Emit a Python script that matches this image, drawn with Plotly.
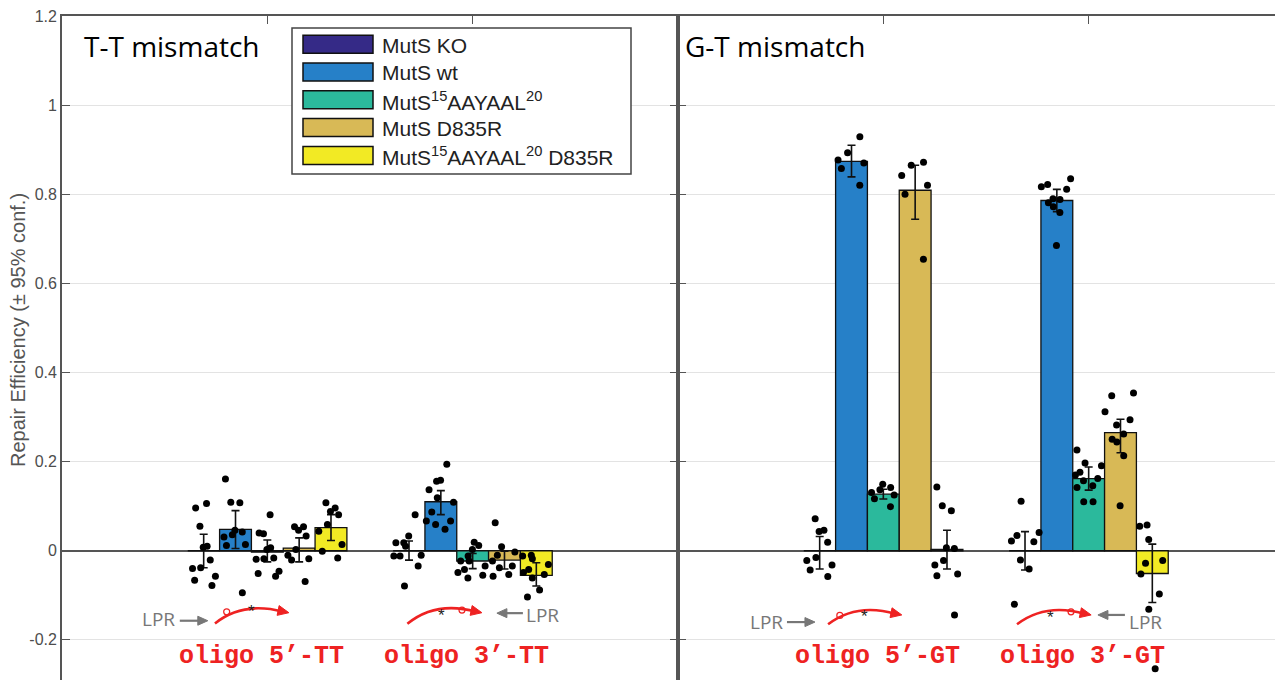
import math
import plotly.graph_objects as go

# ---------------- data ----------------
series_names = [
    "MutS KO",
    "MutS wt",
    "MutS<sup>15</sup>AAYAAL<sup>20</sup>",
    "MutS D835R",
    "MutS<sup>15</sup>AAYAAL<sup>20</sup> D835R",
]
series_colors = ["#352a87", "#2680c8", "#2bb99c", "#d8b956", "#f2ea24"]

oligo_pos = [1, 2]
tt_labels = ["oligo 5\u2019-TT", "oligo 3\u2019-TT"]
gt_labels = ["oligo 5\u2019-GT", "oligo 3\u2019-GT"]

y_tick_vals = [-0.2, 0, 0.2, 0.4, 0.6, 0.8, 1.0, 1.2]
y_tick_text = ["-0.2", "0", "0.2", "0.4", "0.6", "0.8", "1", "1.2"]

# mean repair efficiency per series (KO, wt, AAYAAL, D835R, AAYAAL D835R)
tt5_mean = [0.000, 0.048, -0.003, 0.006, 0.052]
tt3_mean = [0.000, 0.110, -0.023, -0.021, -0.055]
gt5_mean = [0.000, 0.874, 0.127, 0.809, 0.003]
gt3_mean = [0.000, 0.786, 0.162, 0.265, -0.051]

# 95% confidence interval half-widths (upper / lower)
tt5_ci_up = [0.037, 0.042, 0.027, 0.023, 0.029]
tt5_ci_lo = [0.038, 0.043, 0.022, 0.031, 0.029]
tt3_ci_up = [0.022, 0.025, 0.017, 0.020, 0.028]
tt3_ci_lo = [0.021, 0.029, 0.017, 0.020, 0.024]
gt5_ci_up = [0.032, 0.036, 0.011, 0.056, 0.043]
gt5_ci_lo = [0.041, 0.035, 0.011, 0.065, 0.044]
gt3_ci_up = [0.043, 0.025, 0.026, 0.030, 0.066]
gt3_ci_lo = [0.043, 0.025, 0.026, 0.045, 0.065]

# individual replicate measurements
tt5_points = [
    [0.106, 0.096, 0.055, 0.010, 0.008, -0.021, -0.038, -0.040, -0.057, -0.066, -0.078],
    [0.161, 0.109, 0.108, 0.046, 0.042, 0.036, 0.031, 0.014, 0.012, -0.094],
    [0.081, 0.040, 0.038, 0.007, 0.003, -0.016, -0.018, -0.019, -0.046, -0.051, -0.057],
    [0.054, 0.054, 0.046, 0.033, 0.003, -0.010, -0.018, -0.021, -0.069],
    [0.108, 0.096, 0.088, 0.081, 0.059, 0.044, 0.014, -0.001, -0.016],
]
tt3_points = [
    [0.081, 0.033, 0.018, 0.018, 0.010, -0.010, -0.012, -0.012, -0.034, -0.079],
    [0.194, 0.158, 0.156, 0.137, 0.119, 0.109, 0.087, 0.067, 0.067, 0.059, 0.048],
    [0.019, 0.012, 0.003, -0.012, -0.023, -0.023, -0.034, -0.042, -0.049, -0.055, -0.061],
    [0.063, 0.009, -0.003, -0.010, -0.023, -0.034, -0.038, -0.053, -0.057],
    [-0.010, -0.012, -0.018, -0.031, -0.042, -0.049, -0.053, -0.061, -0.088, -0.104],
]
gt5_points = [
    [0.072, 0.046, 0.043, 0.019, -0.015, -0.022, -0.032, -0.043, -0.058],
    [0.929, 0.893, 0.877, 0.870, 0.858, 0.820],
    [0.149, 0.142, 0.137, 0.131, 0.125, 0.117, 0.099],
    [0.872, 0.865, 0.842, 0.820, 0.800, 0.654],
    [0.143, 0.101, 0.090, 0.007, 0.005, -0.022, -0.032, -0.052, -0.056, -0.144],
]
gt3_points = [
    [0.111, 0.041, 0.034, 0.022, 0.020, -0.021, -0.041, -0.120],
    [0.835, 0.822, 0.817, 0.811, 0.790, 0.788, 0.781, 0.772, 0.759, 0.685],
    [0.226, 0.197, 0.191, 0.176, 0.170, 0.162, 0.157, 0.146, 0.142, 0.110, 0.110],
    [0.354, 0.348, 0.312, 0.294, 0.282, 0.262, 0.250, 0.244, 0.213, 0.101],
    [0.058, 0.055, 0.025, -0.022, -0.028, -0.052, -0.097, -0.131, -0.265],
]

# ---------------- figure ----------------
panels = [
    dict(xa="x", ya="y", grp="tt", means=(tt5_mean, tt3_mean), up=(tt5_ci_up, tt3_ci_up),
         lo=(tt5_ci_lo, tt3_ci_lo), pts=(tt5_points, tt3_points), labels=tt_labels,
         title="T-T mismatch"),
    dict(xa="x2", ya="y2", grp="gt", means=(gt5_mean, gt3_mean), up=(gt5_ci_up, gt3_ci_up),
         lo=(gt5_ci_lo, gt3_ci_lo), pts=(gt5_points, gt3_points), labels=gt_labels,
         title="G-T mismatch"),
]

fig = go.Figure()

for p in panels:
    for s, name in enumerate(series_names):
        fig.add_trace(go.Bar(
            x=oligo_pos,
            y=[p["means"][0][s], p["means"][1][s]],
            name=name, xaxis=p["xa"], yaxis=p["ya"],
            offsetgroup=str(s), alignmentgroup=p["grp"],
            marker=dict(color=series_colors[s], line=dict(color="#111111", width=1.3)),
            error_y=dict(type="data", symmetric=False,
                         array=[p["up"][0][s], p["up"][1][s]],
                         arrayminus=[p["lo"][0][s], p["lo"][1][s]],
                         color="#111111", thickness=1.6, width=4),
            showlegend=False,
        ))

for p in panels:
    for s, name in enumerate(series_names):
        a, b = p["pts"][0][s], p["pts"][1][s]
        fig.add_trace(go.Box(
            x=[oligo_pos[0]] * len(a) + [oligo_pos[1]] * len(b),
            y=a + b,
            name=name, xaxis=p["xa"], yaxis=p["ya"],
            offsetgroup=str(s), alignmentgroup=p["grp"],
            boxpoints="all", jitter=1.0, pointpos=0,
            marker=dict(color="black", size=7),
            line=dict(width=0, color="rgba(0,0,0,0)"),
            fillcolor="rgba(0,0,0,0)",
            hoveron="points", showlegend=False,
        ))

# The page places the figure 8px from the window's top-left corner.
OFF = 8
axis_col = "#555555"
W, H = 1283 - OFF, 680 - OFF
ML, MT = 62 - OFF, 16 - OFF
PW, PH = W - ML, H - MT
Y_RANGE = [-0.29, 1.2]
X_RANGE = [0, 3]
DIV = 678 - OFF                      # divider between the two panels (figure px)
split = (DIV - ML) / PW
x_units_per_px = (X_RANGE[1] - X_RANGE[0]) / (DIV - ML)
y_units_per_px = (Y_RANGE[1] - Y_RANGE[0]) / PH
x2_span = (W - DIV) * x_units_per_px

yax = dict(range=Y_RANGE, tickvals=y_tick_vals, ticktext=y_tick_text, automargin=False,
           ticklabeloverflow="allow",
           showgrid=True, gridcolor="#e3e3e3", gridwidth=1,
           zeroline=True, zerolinecolor=axis_col, zerolinewidth=1.6,
           showline=True, linecolor=axis_col, linewidth=1.8,
           ticks="inside", ticklen=8, tickwidth=1.3, tickcolor=axis_col,
           tickfont=dict(family="Liberation Sans, Arial, sans-serif", size=16, color="#4d4d4d"))
xax = dict(showgrid=False, zeroline=False, side="top", automargin=False,
           showline=True, linecolor=axis_col, linewidth=1.8,
           ticks="inside", ticklen=8, tickwidth=1.3, tickcolor=axis_col,
           tickvals=oligo_pos, showticklabels=False)

fig.update_layout(
    width=W, height=H,
    margin=dict(l=ML, r=0, t=MT, b=0),
    plot_bgcolor="white", paper_bgcolor="white",
    barmode="group", bargap=0.225, bargroupgap=0,
    boxmode="group", boxgap=0.225, boxgroupgap=0,
    showlegend=False,
    xaxis=dict(xax, domain=[0, split], range=X_RANGE, anchor="y"),
    xaxis2=dict(xax, domain=[split, 1], range=[0, x2_span], anchor="y2"),
    yaxis=dict(yax, anchor="x", mirror="ticks"),
    yaxis2=dict(yax, anchor="x2", showticklabels=False),
)


def px_x(px):
    """window px -> paper x"""
    return (px - OFF - ML) / PW


def px_y(py):
    """window px -> paper y"""
    return (H - (py - OFF)) / PH


ann = []
shapes = []

# y-axis title
ann.append(dict(text="Repair Efficiency (\u00b1 95% conf.)", textangle=-90,
                xref="paper", yref="paper", x=px_x(18), y=px_y(330),
                xanchor="center", yanchor="middle",
                showarrow=False, font=dict(family="Liberation Sans, Arial, sans-serif",
                                           size=20, color="#555555")))

# panel titles
for p, xpix in zip(panels, [82, 683]):
    ann.append(dict(text=p["title"], xref="paper", yref="paper", x=px_x(xpix),
                    y=px_y(46), xanchor="left", yanchor="middle", showarrow=False,
                    font=dict(family="Open Sans, sans-serif", size=28, color="black")))

# oligo labels
red = "#ee2222"
for p in panels:
    for xv, lab in zip(oligo_pos, p["labels"]):
        ann.append(dict(text=lab, xref=p["xa"], yref=p["ya"], x=xv - 0.03, y=-0.238,
                        showarrow=False,
                        font=dict(family="Liberation Mono, Courier New, monospace",
                                  size=25, color=red, weight="bold")))


def head_path(tx, ty, dir_px, length=11, half=5):
    """Triangle arrow head (data coords) with tip (tx,ty), direction given in screen px."""
    dx, dy = dir_px
    n = math.hypot(dx, dy)
    dx, dy = dx / n, dy / n
    bx, by = -dx * length, -dy * length
    nx, ny = -dy * half, dx * half
    pts = [(0, 0), (bx + nx, by + ny), (bx - nx, by - ny)]
    coords = [(tx + px * x_units_per_px, ty - py * y_units_per_px) for px, py in pts]
    return "M " + " L ".join(f"{x},{y}" for x, y in coords) + " Z"


# LPR cartoons (decorative schematic, relative to each oligo position)
cartoons = [
    dict(xa="x", ya="y", c=1, start=(-0.255, -0.163), ctrl=(-0.12, -0.113), tip=(0.105, -0.139),
         circ=(-0.198, -0.137), star=(-0.078, -0.128), lpr=(-0.53, -0.152),
         arrow_tip=(-0.29, -0.157), arrow_dx=-28),
    dict(xa="x", ya="y", c=2, start=(-0.318, -0.164), ctrl=(-0.18, -0.112), tip=(0.045, -0.139),
         circ=(-0.052, -0.133), star=(-0.154, -0.136), lpr=(0.34, -0.145),
         arrow_tip=(0.118, -0.140), arrow_dx=26),
    dict(xa="x2", ya="y2", c=1, start=(-0.269, -0.165), ctrl=(-0.13, -0.116), tip=(0.090, -0.144),
         circ=(-0.212, -0.145), star=(-0.094, -0.138), lpr=(-0.571, -0.160),
         arrow_tip=(-0.333, -0.160), arrow_dx=-28),
    dict(xa="x2", ya="y2", c=2, start=(-0.349, -0.165), ctrl=(-0.21, -0.116), tip=(0.012, -0.144),
         circ=(-0.086, -0.137), star=(-0.188, -0.140), lpr=(0.279, -0.160),
         arrow_tip=(0.045, -0.144), arrow_dx=27),
]
for cz in cartoons:
    c = cz["c"]
    x0, y0 = c + cz["start"][0], cz["start"][1]
    xc, yc = c + cz["ctrl"][0], cz["ctrl"][1]
    tx, ty = c + cz["tip"][0], cz["tip"][1]
    x1, y1 = tx - 6 * x_units_per_px, ty + 1 * y_units_per_px
    shapes.append(dict(type="path", xref=cz["xa"], yref=cz["ya"],
                       path=f"M {x0},{y0} Q {xc},{yc} {x1},{y1}",
                       line=dict(color=red, width=2.6)))
    shapes.append(dict(type="path", xref=cz["xa"], yref=cz["ya"],
                       path=head_path(tx, ty, (12, 2.5), length=11, half=5),
                       line=dict(color=red, width=1), fillcolor=red))
    shapes.append(dict(type="circle", xref=cz["xa"], yref=cz["ya"], xsizemode="pixel",
                       ysizemode="pixel", xanchor=c + cz["circ"][0], yanchor=cz["circ"][1],
                       x0=-3, x1=3, y0=-3, y1=3, line=dict(color=red, width=1.2),
                       fillcolor="rgba(0,0,0,0)"))
    ann.append(dict(text="*", xref=cz["xa"], yref=cz["ya"], x=c + cz["star"][0], y=cz["star"][1],
                    yshift=-4, showarrow=False,
                    font=dict(family="Liberation Sans, Arial", size=17, color="#222222")))
    ann.append(dict(text="LPR", xref=cz["xa"], yref=cz["ya"], x=c + cz["lpr"][0], y=cz["lpr"][1],
                    showarrow=False, font=dict(family="Open Sans, sans-serif", size=19, color="#777777")))
    # gray arrow: shaft + head
    gx, gy = c + cz["arrow_tip"][0], cz["arrow_tip"][1]
    sgn = -1 if cz["arrow_dx"] < 0 else 1
    tail_x = gx + cz["arrow_dx"] * x_units_per_px
    shaft_end = gx + sgn * 8 * x_units_per_px
    shapes.append(dict(type="line", xref=cz["xa"], yref=cz["ya"], x0=tail_x, x1=shaft_end,
                       y0=gy, y1=gy, line=dict(color="#777777", width=2.2)))
    shapes.append(dict(type="path", xref=cz["xa"], yref=cz["ya"],
                       path=head_path(gx, gy, (-sgn, 0), length=10, half=4.5),
                       line=dict(color="#777777", width=1), fillcolor="#777777"))

# legend box (drawn)
shapes.append(dict(type="rect", xref="paper", yref="paper", x0=px_x(292), x1=px_x(631),
                   y0=px_y(174), y1=px_y(28), line=dict(color="#444444", width=1.5),
                   fillcolor="white", layer="above"))
for i, (name, col) in enumerate(zip(series_names, series_colors)):
    cy = 44.2 + 27.8 * i
    shapes.append(dict(type="rect", xref="paper", yref="paper", x0=px_x(303), x1=px_x(373),
                       y0=px_y(cy + 9), y1=px_y(cy - 9), line=dict(color="#111111", width=1.5),
                       fillcolor=col, layer="above"))
    ann.append(dict(text=name, xref="paper", yref="paper", x=px_x(380), y=px_y(cy + 1),
                    xanchor="left", yanchor="middle", showarrow=False,
                    font=dict(family="Liberation Sans, Arial, sans-serif", size=21, color="#222222")))

fig.update_layout(annotations=ann, shapes=shapes)
fig.write_html("out.html")
